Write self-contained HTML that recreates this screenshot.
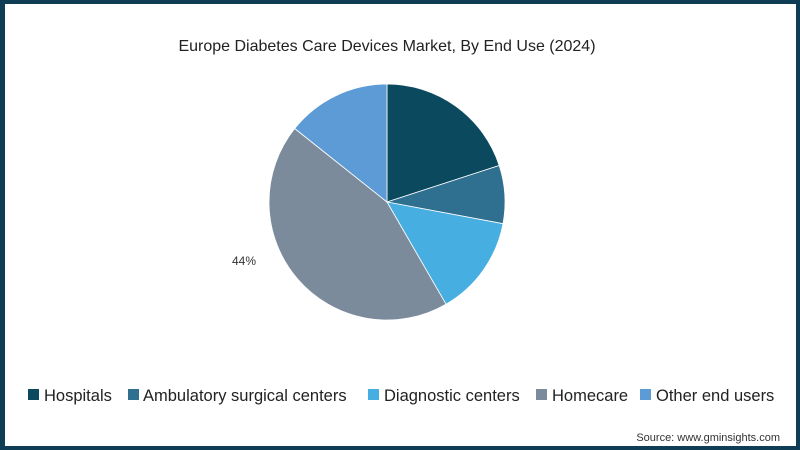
<!DOCTYPE html>
<html><head><style>
body{margin:0;width:800px;height:450px;overflow:hidden;font-family:"Liberation Sans",sans-serif;}
.f{position:absolute;left:0;top:0;width:800px;height:450px;box-sizing:border-box;border:4px solid #0e3d55;border-left-width:5px;background:#fff;}
</style></head><body>
<div class="f"></div>
<svg width="800" height="450" style="position:absolute;left:0;top:0">
<text x="387" y="51" text-anchor="middle" font-size="16" fill="#222" font-family="Liberation Sans">Europe Diabetes Care Devices Market, By End Use (2024)</text>
<g stroke="#fff" stroke-width="0.8">
<path d="M387,202 L387,84 A118,118 0 0 1 499.2,165.5 Z" fill="#0b4a5e"/>
<path d="M387,202 L499.2,165.5 A118,118 0 0 1 503,223.7 Z" fill="#2f6f8f"/>
<path d="M387,202 L503,223.7 A118,118 0 0 1 446,304.2 Z" fill="#47aee2"/>
<path d="M387,202 L446,304.2 A118,118 0 0 1 294.7,128.5 Z" fill="#7b8b9c"/>
<path d="M387,202 L294.7,128.5 A118,118 0 0 1 387,84 Z" fill="#5d9bd6"/>
</g>
<text x="232" y="265" font-size="12" fill="#333">44%</text>
<g font-size="16.5" fill="#222">
<rect x="28" y="389" width="11" height="11" fill="#0b4a5e"/><text x="44" y="401">Hospitals</text>
<rect x="128" y="389" width="11" height="11" fill="#2f6f8f"/><text x="143" y="401">Ambulatory surgical centers</text>
<rect x="368" y="389" width="11" height="11" fill="#47aee2"/><text x="384" y="401">Diagnostic centers</text>
<rect x="536" y="389" width="11" height="11" fill="#7b8b9c"/><text x="552" y="401">Homecare</text>
<rect x="640" y="389" width="11" height="11" fill="#5d9bd6"/><text x="656" y="401">Other end users</text>
</g>
<text x="780" y="441" text-anchor="end" font-size="11" fill="#333">Source: www.gminsights.com</text>
</svg>
</body></html>
